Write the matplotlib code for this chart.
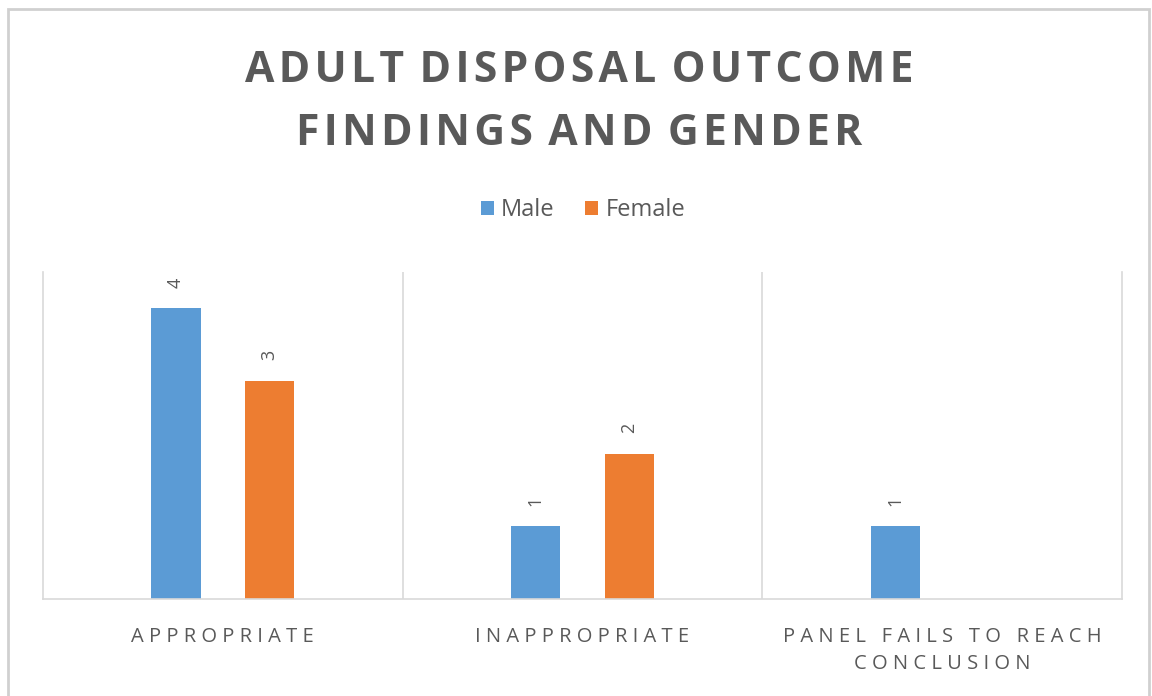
import numpy as np
import matplotlib
matplotlib.use('Agg')
import matplotlib.pyplot as plt
from matplotlib.patches import Rectangle

plt.rcParams['font.family'] = ['Open Sans', 'DejaVu Sans']

# Data
categories = ['APPROPRIATE', 'INAPPROPRIATE', 'PANEL FAILS TO REACH\nCONCLUSION']
series_names = ['Male', 'Female']
male = [4, 1, 1]
female = [3, 2, 0]
colors = ['#5B9BD5', '#ED7D31']
title = 'ADULT DISPOSAL OUTCOME\nFINDINGS AND GENDER'

text_col = '#595959'
grid_col = '#D9D9D9'


def spaced(s, gap=' ', word_gap='   '):
	# fake letter spacing by putting spaces between characters
	out = []
	for line in s.split('\n'):
		out.append(word_gap.join(gap.join(list(wd)) for wd in line.split(' ')))
	return '\n'.join(out)


fig = plt.figure(figsize=(11.52, 6.96), dpi=100)
ax = fig.add_axes([43/1152, 1-599/696, (1122-43)/1152, (599-272)/696])

x = np.arange(len(categories))
w = 0.137
off = 0.13
bars_m = ax.bar(x - off, male, w, color=colors[0], label=series_names[0])
bars_f = ax.bar(x + off, female, w, color=colors[1], label=series_names[1])

# data labels, rotated
for bars, vals in [(bars_m, male), (bars_f, female)]:
	for b, v in zip(bars, vals):
		if v == 0:
			continue
		ax.annotate(str(v), (b.get_x() + b.get_width()/2, v), xytext=(0, 15),
			textcoords='offset points', rotation=90, ha='center', va='bottom',
			fontsize=13, color=text_col)

ax.set_xlim(-0.5, len(categories) - 0.5)
ax.set_ylim(0, 4.5)
ax.set_yticks([])
ax.set_xticks(x)
ax.set_xticklabels([spaced(c) for c in categories], fontsize=14.5, color=text_col,
	linespacing=1.45)
ax.tick_params(axis='x', length=0, pad=20)

# category separators
for xv in np.arange(0.5, len(categories) - 0.5, 1):
	ax.axvline(xv, color=grid_col, lw=1.2)
for sp in ['left', 'right', 'bottom']:
	ax.spines[sp].set_color(grid_col)
	ax.spines[sp].set_linewidth(1.2)
ax.spines['top'].set_visible(False)

fig.text(0.503, 0.853, spaced(title, gap='\u200a', word_gap=' \u200a'), ha='center',
	va='center', fontsize=30.7, fontweight='bold', color=text_col, linespacing=1.6)

fig.legend(loc='center', bbox_to_anchor=(0.506, 0.698), ncol=2, frameon=False,
	fontsize=17, handlelength=0.55, handleheight=0.55, handletextpad=0.3,
	columnspacing=1.3, labelcolor=text_col)

# outer chart border
fig.add_artist(Rectangle((8/1152, -0.05), 1141/1152, 1.05 - 9/696,
	transform=fig.transFigure, fill=False, edgecolor='#D0D0D0', lw=2))

fig.savefig('out.png', dpi=100)
